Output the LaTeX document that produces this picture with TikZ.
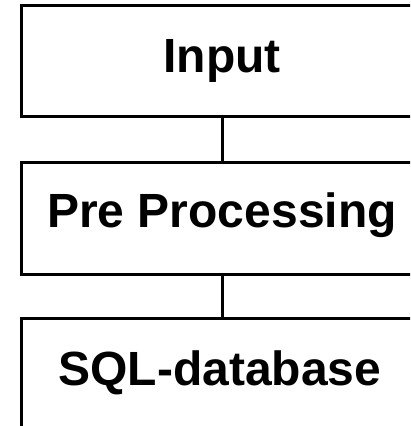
\documentclass[tikz,border=0pt]{standalone}
\usepackage{fontspec}
\setmainfont{Liberation Sans}
\begin{document}
\begin{tikzpicture}[x=1pt,y=1pt,
  stagebox/.style={draw=black, line width=3pt, minimum width=402pt, inner sep=0pt},
  stagetext/.style={anchor=base, inner sep=0pt, font=\fontsize{48}{50}\selectfont\bfseries},
  link/.style={draw=black, line width=3pt}]
\useasboundingbox (0,0) rectangle (410,-426);
\clip (0,0) rectangle (410,-426);
% stage frames
\node[stagebox, minimum height=111.5pt] (input) at (222,-60.75) {};
\node[stagebox, minimum height=112pt] (pre) at (222,-218) {};
\node[stagebox, minimum height=112pt] (sql) at (222,-374) {};
% stage titles
\node[stagetext] (inputlbl) at (222,-72) {Input};
\node[stagetext] (prelbl) at (222,-227) {Pre Processing};
\node[stagetext] (sqllbl) at (220,-385) {SQL-database};
% vertical links
\draw[link] (input.south) -- (pre.north);
\draw[link] (pre.south) -- (sql.north);
\end{tikzpicture}
\end{document}
